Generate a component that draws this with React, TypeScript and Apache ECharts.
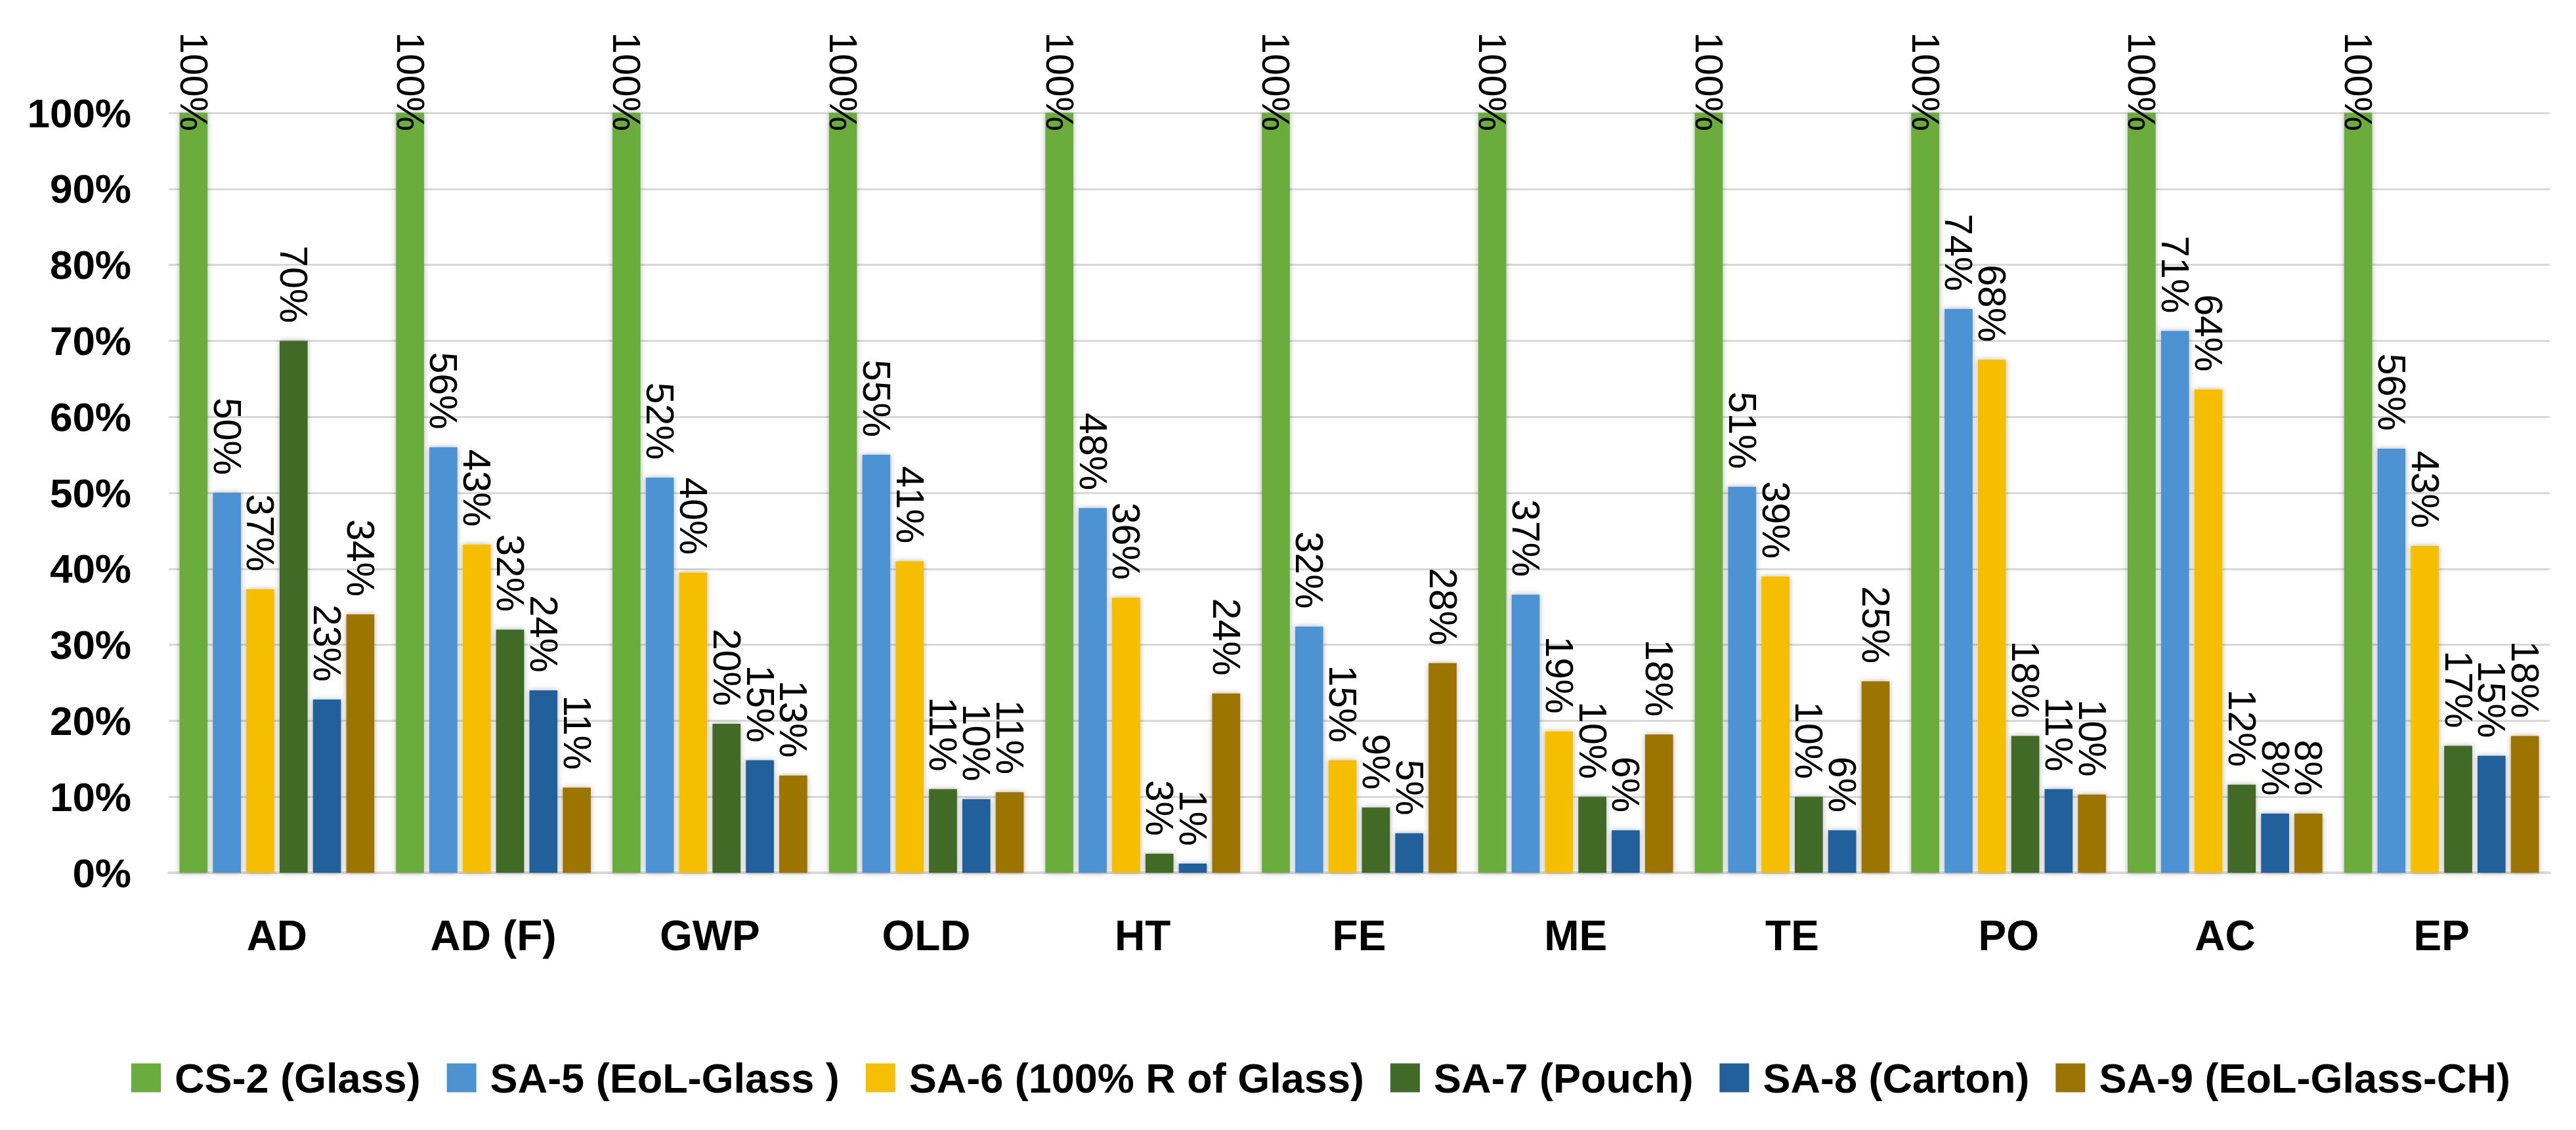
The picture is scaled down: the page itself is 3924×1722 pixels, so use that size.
import React, { useEffect, useRef } from "react";
import * as echarts from "echarts";

const categories = ["AD", "AD (F)", "GWP", "OLD", "HT", "FE", "ME", "TE", "PO", "AC", "EP"];
const seriesNames = [
  "CS-2 (Glass)",
  "SA-5 (EoL-Glass )",
  "SA-6 (100% R of Glass)",
  "SA-7 (Pouch)",
  "SA-8 (Carton)",
  "SA-9 (EoL-Glass-CH)",
];
const cs2Glass = [100, 100, 100, 100, 100, 100, 100, 100, 100, 100, 100];
const sa5EolGlass = [50, 56, 52, 55, 48, 32.4, 36.6, 50.8, 74.2, 71.3, 55.8];
const sa6Recycled = [37.3, 43.2, 39.5, 41, 36.2, 14.8, 18.6, 39, 67.5, 63.6, 43];
const sa7Pouch = [70, 32, 19.6, 11, 2.5, 8.6, 10, 10, 18, 11.6, 16.7];
const sa8Carton = [22.8, 24, 14.8, 9.7, 1.2, 5.2, 5.6, 5.6, 11, 7.8, 15.4];
const sa9EolGlassCH = [34, 11.2, 12.8, 10.6, 23.6, 27.6, 18.2, 25.2, 10.3, 7.8, 18];
const seriesValues = [cs2Glass, sa5EolGlass, sa6Recycled, sa7Pouch, sa8Carton, sa9EolGlassCH];
const yTicks = [0, 10, 20, 30, 40, 50, 60, 70, 80, 90, 100];

const colors = ["#6AAD3E", "#4E92D2", "#F5BF05", "#416A28", "#22609B", "#9C7406"];
const FONT = "'Liberation Sans', Arial, sans-serif";

export default function App() {
  const ref = useRef<HTMLDivElement>(null);
  useEffect(() => {
    if (!ref.current) return;
    document.body.style.margin = "0";
    const chart = echarts.init(ref.current, undefined, { renderer: "svg" });
    const series = seriesValues.map((vals, i) => ({
      name: seriesNames[i],
      type: "bar",
      data: vals,
      barGap: "19%",
      barCategoryGap: "10%",
      itemStyle: {
        color: colors[i],
        shadowBlur: 8,
        shadowColor: "rgba(0,0,0,0.3)",
      },
      label: {
        show: true,
        position: "top",
        distance: i === 0 ? -28 : 27,
        rotate: -90,
        align: "right",
        verticalAlign: "middle",
        fontFamily: FONT,
        fontSize: 59,
        color: "#000",
        formatter: (p: any) => Math.round(p.value) + "%",
      },
    }));
    chart.setOption({
      animation: false,
      backgroundColor: "#fff",
      grid: { left: 257, right: 40, top: 172, bottom: 392, containLabel: false },
      legend: {
        data: seriesNames,
        left: 195,
        top: 1606,
        icon: "rect",
        itemWidth: 45,
        itemHeight: 44,
        itemGap: 40,
        textStyle: {
          fontFamily: FONT,
          fontSize: 63,
          fontWeight: "bold",
          color: "#000",
          padding: [0, 0, 0, 16],
        },
      },
      xAxis: {
        type: "category",
        data: categories,
        axisLine: { show: true, lineStyle: { color: "#d9d9d9", width: 4 } },
        axisTick: { show: false },
        axisLabel: {
          margin: 64,
          fontFamily: FONT,
          fontSize: 64,
          fontWeight: "bold",
          color: "#000",
        },
      },
      yAxis: {
        type: "value",
        min: yTicks[0],
        max: yTicks[yTicks.length - 1],
        interval: 10,
        axisLine: { show: false },
        axisTick: { show: false },
        splitLine: { lineStyle: { color: "#d9d9d9", width: 3 } },
        axisLabel: {
          margin: 57,
          fontFamily: FONT,
          fontSize: 62,
          fontWeight: "bold",
          color: "#000",
          formatter: (v: number) => v + "%",
        },
      },
      series,
    });
    return () => chart.dispose();
  }, []);
  return (
    <div
      ref={ref}
      style={{ position: "fixed", left: 0, top: 0, width: 3924, height: 1722 }}
    />
  );
}
